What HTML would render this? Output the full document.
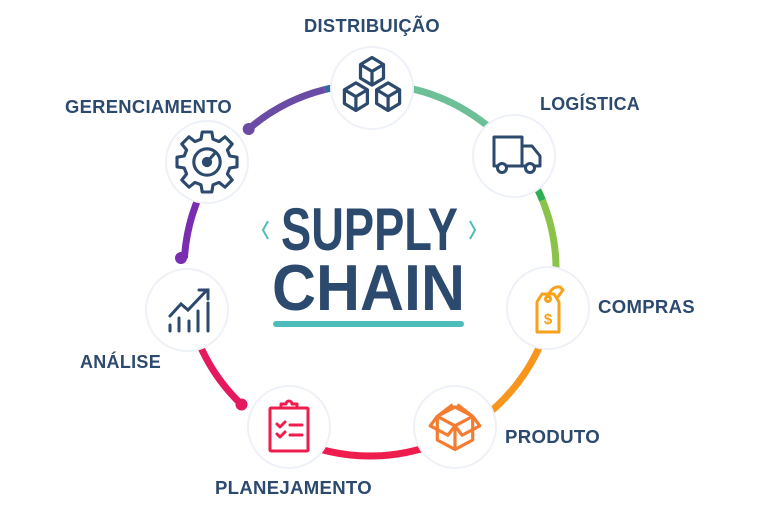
<!DOCTYPE html>
<html><head><meta charset="utf-8"><style>
html,body{margin:0;padding:0;background:#fff;width:768px;height:512px;overflow:hidden}
svg{display:block}
.l{font-family:"Liberation Sans",sans-serif;font-size:18px;font-weight:bold;fill:#2c4a6e;letter-spacing:0.3px}
</style></head><body>
<svg width="768" height="512" viewBox="0 0 768 512" xmlns="http://www.w3.org/2000/svg">
<g fill="none" stroke-width="7" stroke-linecap="butt">
<path d="M248.7,129 A186,186 0 0 1 325,89.5" stroke="#6a4ca6"/>
<path d="M325,89.5 A186,186 0 0 1 353.8,84.7" stroke="#2f6aa3"/>
<path d="M386.2,84.7 A186,186 0 0 1 408.7,88.1" stroke="#14977e"/>
<path d="M408.7,88.1 A186,186 0 0 1 512.5,150.4" stroke="#6cbf96"/>
<path d="M531.1,177 A186,186 0 0 1 542.5,200.3" stroke="#2fae55"/>
<path d="M542.5,200.3 A186,186 0 0 1 555.3,286.2" stroke="#8bc34a"/>
<path d="M544.8,333.6 A186,186 0 0 1 476.7,422.4" stroke="#f7951d"/>
<path d="M448.6,438.6 A186,186 0 0 1 291.4,438.6" stroke="#ee1d4e"/>
<path d="M241.5,404.5 A186,186 0 0 1 195.2,333.6" stroke="#e5195f"/>
<path d="M184.4,258.3 A186,186 0 0 1 208.9,177" stroke="#7a2db0"/>
</g>
<circle cx="248.7" cy="129" r="6" fill="#6a4ca6"/>
<circle cx="241.5" cy="404.5" r="6" fill="#e5195f"/>
<circle cx="181" cy="258" r="6" fill="#7a2db0"/>
<g fill="#fff" stroke="#eef1f8" stroke-width="2">
<circle cx="372" cy="88" r="41"/>
<circle cx="514" cy="156" r="41"/>
<circle cx="548" cy="308" r="41"/>
<circle cx="455" cy="427" r="41"/>
<circle cx="289" cy="427" r="41"/>
<circle cx="187" cy="310" r="41"/>
<circle cx="207" cy="162" r="41"/>
</g>
<!-- cubes -->
<g fill="none" stroke="#2c4a6e" stroke-width="2.8" stroke-linejoin="round" transform="translate(372,84) scale(1.15) translate(-372,-84)">
<path d="M372,61 l10,6 v12 l-10,6 l-10,-6 v-12 z M362,67 l10,6 l10,-6 M372,73 v12"/>
<path d="M358,83 l10,6 v12 l-10,6 l-10,-6 v-12 z M348,89 l10,6 l10,-6 M358,95 v12"/>
<path d="M386,83 l10,6 v12 l-10,6 l-10,-6 v-12 z M376,89 l10,6 l10,-6 M386,95 v12"/>
</g>
<!-- truck -->
<g fill="none" stroke="#2c4a6e" stroke-width="3" stroke-linejoin="round">
<path d="M494,137 h28 v29 h-28 z"/>
<path d="M522,146 h10 l8,10 v10 h-18"/>
<circle cx="502" cy="168" r="4.5" fill="#fff"/>
<circle cx="530" cy="168" r="4.5" fill="#fff"/>
</g>
<!-- gear -->
<g fill="none" stroke="#2c4a6e" stroke-width="2.6" transform="translate(207,162) scale(1.2) translate(-207,-162)">
<path d="M203,137 h8 l1,6 l5,2 l5,-4 l6,6 l-4,5 l2,5 l6,1 v8 l-6,1 l-2,5 l4,5 l-6,6 l-5,-4 l-5,2 l-1,6 h-8 l-1,-6 l-5,-2 l-5,4 l-6,-6 l4,-5 l-2,-5 l-6,-1 v-8 l6,-1 l2,-5 l-4,-5 l6,-6 l5,4 l5,-2 z" stroke-linejoin="round"/>
<circle cx="207" cy="162" r="11"/>
<circle cx="207" cy="162" r="3" fill="#2c4a6e"/>
<path d="M207,162 l8,-9"/>
</g>
<!-- chart -->
<g fill="none" stroke="#2c4a6e" stroke-width="3" stroke-linecap="round">
<path d="M170,316 l11,-12 l7,6 l19,-20 M199,290 h9 v9"/>
<path d="M170,331 v-6 M179,331 v-13 M189,331 v-10 M198,331 v-20 M208,331 v-28"/>
</g>
<!-- tag -->
<g fill="none" stroke="#f7a21b" stroke-width="3" stroke-linejoin="round">
<path d="M537,302 l5,-8 h12 l5,8 v30 h-22 z"/>
<circle cx="548" cy="299" r="2.5"/>
<path d="M548,296 q4,-10 12,-9 l3,3 l-6,8"/>
<text x="548" y="324" font-family="Liberation Sans,sans-serif" font-size="15" font-weight="bold" fill="#f7a21b" stroke="none" text-anchor="middle">$</text>
</g>
<!-- box -->
<g fill="none" stroke="#f47c30" stroke-width="2.7" stroke-linejoin="round" transform="translate(455,427) scale(1.18) translate(-455,-427)">
<path d="M440,418 v20 l15,8 l15,-8 v-20"/>
<path d="M440,418 l15,8 l15,-8 l-15,-8 z"/>
<path d="M455,426 v20 M440,418 l-6,8 l15,8 l6,-8 M470,418 l6,8 l-15,8 l-6,-8 M440,418 l13,-10 M470,418 l-13,-10"/>
</g>
<!-- clipboard -->
<g fill="none" stroke="#ee1d4e" stroke-width="3" stroke-linejoin="round" stroke-linecap="round">
<rect x="270" y="408" width="38" height="43" rx="1"/>
<path d="M281,408 v-4 h5 a3,3 0 0 1 6,0 h5 v4"/>
<path d="M277,424 l3,3 l5,-5 M290,425 h12 M277,434 l3,3 l5,-5 M290,435 h12"/>
</g>
<!-- title -->
<text x="281" y="250" textLength="177" lengthAdjust="spacingAndGlyphs" font-family="Liberation Sans,sans-serif" font-size="60" font-weight="bold" fill="#2c4a6e">SUPPLY</text>
<text x="272" y="310" textLength="193" lengthAdjust="spacingAndGlyphs" font-family="Liberation Sans,sans-serif" font-size="65" font-weight="bold" fill="#2c4a6e">CHAIN</text>
<path d="M268,221 l-5,9 l5,9 M470,221 l5,9 l-5,9" fill="none" stroke="#4dbdbb" stroke-width="2"/>
<line x1="276" y1="324" x2="461" y2="324" stroke="#4dbdbb" stroke-width="6" stroke-linecap="round"/>
<!-- labels -->
<text class="l" x="372" y="32" text-anchor="middle" textLength="136" lengthAdjust="spacingAndGlyphs">DISTRIBUIÇÃO</text>
<text class="l" x="540" y="110" textLength="100" lengthAdjust="spacingAndGlyphs">LOGÍSTICA</text>
<text class="l" x="65" y="113" textLength="167" lengthAdjust="spacingAndGlyphs">GERENCIAMENTO</text>
<text class="l" x="598" y="313" textLength="97" lengthAdjust="spacingAndGlyphs">COMPRAS</text>
<text class="l" x="80" y="368" textLength="81" lengthAdjust="spacingAndGlyphs">ANÁLISE</text>
<text class="l" x="505" y="443" textLength="95" lengthAdjust="spacingAndGlyphs">PRODUTO</text>
<text class="l" x="215" y="494" textLength="157" lengthAdjust="spacingAndGlyphs">PLANEJAMENTO</text>
</svg>
</body></html>
